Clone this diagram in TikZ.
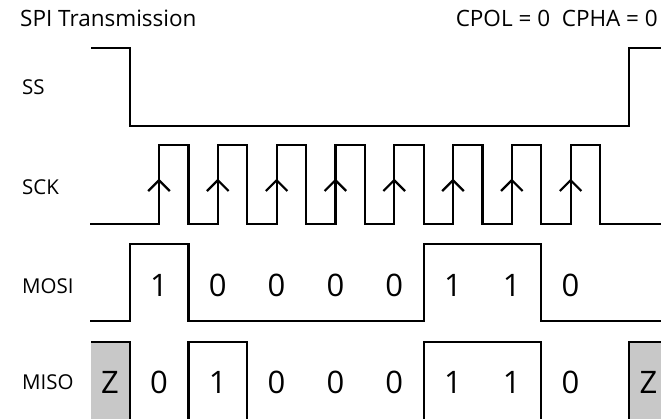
\documentclass[tikz,border=0pt]{standalone}
\usepackage{fontspec}
\setmainfont{Open Sans}
\definecolor{zgray}{RGB}{200,200,200}
\begin{document}
\begin{tikzpicture}[x=1pt,y=-1pt,
  sig/.style={line width=2.2pt, line join=miter},
  lbl/.style={font=\fontsize{20.5}{20.5}\selectfont, anchor=west, inner sep=0pt},
  ttl/.style={font=\fontsize{22.5}{22.5}\selectfont, anchor=west, inner sep=0pt},
  dig/.style={font=\fontsize{31}{31}\selectfont, inner sep=0pt}]
\useasboundingbox (0,0) rectangle (661,418);
\clip (0,0) rectangle (661,418);
% labels
\node[ttl] (title) at (20,18) {SPI Transmission};
\node[ttl, anchor=east] (mode) at (658,18) {CPOL = 0\ \ CPHA = 0};
\node[lbl] (ss) at (22,87) {SS};
\node[lbl] (sck) at (22,187) {SCK};
\node[lbl] (mosi) at (22,286) {MOSI};
\node[lbl] (miso) at (22,382) {MISO};
% gray Z regions
\fill[zgray] (91,342) rectangle (130,425);
\fill[zgray] (629.3,342) rectangle (665,425);
% SS
\draw[sig] (91,47.7) -- (130,47.7) -- (130,126.3) -- (629.3,126.3) -- (629.3,47.7) -- (665,47.7);
% SCK
\draw[sig] (90,224) foreach \k in {0,...,7} {
  -- ({159+58.8*\k},224) -- ({159+58.8*\k},145.3) -- ({188.4+58.8*\k},145.3) -- ({188.4+58.8*\k},224)}
  -- (665,224);
\foreach \k in {0,...,7} {
  \draw[line width=2.2pt] ({159+58.8*\k-10.8},191) -- ({159+58.8*\k},180.2) -- ({159+58.8*\k+10.8},191);
}
% MOSI
\draw[sig] (90,321) -- (129.7,321) -- (129.7,244) -- (188.4,244) -- (188.4,321) -- (423.6,321)
  -- (423.6,244) -- (541.2,244) -- (541.2,321) -- (665,321);
\foreach \d [count=\i from 0] in {1,0,0,0,0,1,1,0} {
  \node[dig] (mo\i) at ({159+58.8*\i},285) {\d};
}
% MISO
\draw[sig] (91,342) -- (130,342) -- (130,421) -- (188.4,421) -- (188.4,342) -- (247.2,342)
  -- (247.2,421) -- (423.6,421) -- (423.6,342) -- (541.2,342) -- (541.2,421) -- (629.3,421)
  -- (629.3,342) -- (665,342);
\node[dig] (mizl) at (110,382) {Z};
\foreach \d [count=\i from 0] in {0,1,0,0,0,1,1,0} {
  \node[dig] (mi\i) at ({159+58.8*\i},382.5) {\d};
}
\node[dig] (mizr) at (648.5,382) {Z};
\end{tikzpicture}
\end{document}
